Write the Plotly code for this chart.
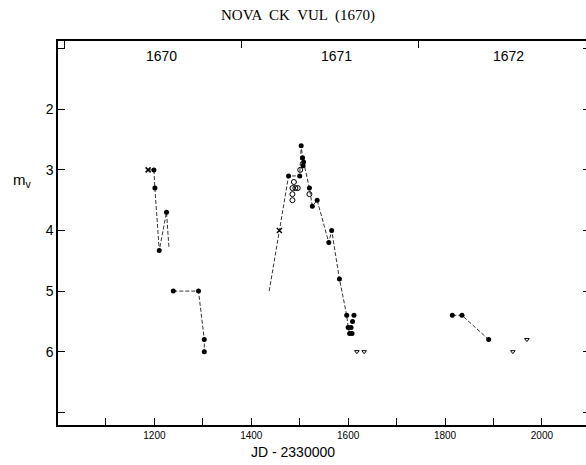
import plotly.graph_objects as go

# Light curve of Nova CK Vul (1670): JD - 2330000 vs visual magnitude
# Connecting line (None separates the observing seasons)
line_jd = [1187, 1199, 1201, 1210, 1225, 1230, None,
           1239, 1291, 1303, 1303, None,
           1437, 1458, 1477, 1500, 1503, 1506, 1520, 1526, 1536, 1560, 1566,
           1582, 1597, 1600, 1603, None,
           1815, 1835, 1890]
line_mag = [3.0, 3.0, 3.3, 4.33, 3.7, 4.28, None,
            5.0, 5.0, 5.8, 6.0, None,
            5.0, 4.0, 3.1, 3.1, 2.6, 2.8, 3.3, 3.6, 3.5, 4.2, 4.0,
            4.8, 5.4, 5.6, 5.7, None,
            5.4, 5.4, 5.8]

# Observations (filled dots)
dot_jd = [1199, 1201, 1210, 1225, 1239, 1291, 1303, 1303,
          1477, 1500, 1503, 1506, 1508, 1507, 1520, 1526, 1536, 1566, 1560,
          1582, 1597, 1612, 1609, 1600, 1606, 1603, 1608,
          1815, 1835, 1890]
dot_mag = [3.0, 3.3, 4.33, 3.7, 5.0, 5.0, 5.8, 6.0,
           3.1, 3.1, 2.6, 2.8, 2.87, 2.93, 3.3, 3.6, 3.5, 4.0, 4.2,
           4.8, 5.4, 5.4, 5.5, 5.6, 5.6, 5.7, 5.7,
           5.4, 5.4, 5.8]

# Observations (open circles)
open_jd = [1488, 1485, 1491, 1485, 1485, 1496, 1501, 1520]
open_mag = [3.2, 3.3, 3.3, 3.4, 3.5, 3.3, 3.0, 3.4]

# Crosses
cross_jd = [1187, 1458]
cross_mag = [3.0, 4.0]

# Fainter-than estimates
lim_jd = [1618, 1633, 1940, 1969]
lim_mag = [6.0, 6.0, 6.0, 5.8]

# Calendar years along the top
year_bounds = [1015, 1380, 1745]
year_labels = ["1670", "1671", "1672"]
year_label_jd = [1215, 1575, 1932]

x_ticks = [1100, 1200, 1300, 1400, 1500, 1600, 1700, 1800, 1900, 2000]
x_ticktext = ["" if v % 200 else str(v) for v in x_ticks]
y_ticks = [1, 2, 3, 4, 5, 6, 7]
y_ticktext = ["", "2", "3", "4", "5", "6", ""]

XR = [1001, 2091]
YR = [7.21, 0.873]
SANS = "Liberation Sans"

# pixel helpers for text placement (plot area: x 58..586, y 41..425)
def px(x):
    return (x - 58) / 528


def py(y):
    return 1 - (y - 41) / 384


fig = go.Figure()
fig.add_trace(go.Scatter(x=line_jd, y=line_mag, mode="lines",
                         line=dict(color="black", width=0.8, dash="4px,2px"),
                         connectgaps=False, hoverinfo="skip"))
fig.add_trace(go.Scatter(x=dot_jd, y=dot_mag, mode="markers",
                         marker=dict(symbol="circle", size=5, color="black")))
fig.add_trace(go.Scatter(x=open_jd, y=open_mag, mode="markers",
                         marker=dict(symbol="circle-open", size=5, color="black",
                                     line=dict(width=1, color="black"))))
fig.add_trace(go.Scatter(x=cross_jd, y=cross_mag, mode="markers",
                         marker=dict(symbol="x-thin", size=5,
                                     line=dict(width=1.5, color="black"))))
fig.add_trace(go.Scatter(x=lim_jd, y=lim_mag, mode="markers",
                         marker=dict(symbol="triangle-down-open", size=4, color="black",
                                     line=dict(width=1, color="black"))))
# invisible traces to activate the extra axes
fig.add_trace(go.Scatter(x=[None], y=[None], xaxis="x2", showlegend=False))
fig.add_trace(go.Scatter(x=[None], y=[None], yaxis="y2", showlegend=False))

fig.update_layout(
    width=586, height=465,
    margin=dict(l=58, r=0, t=41, b=40),
    paper_bgcolor="white", plot_bgcolor="white",
    showlegend=False,
    xaxis=dict(range=XR, tickvals=x_ticks, ticktext=x_ticktext,
               ticks="inside", ticklen=7, tickwidth=1, tickcolor="black",
               showline=True, linecolor="black", linewidth=1.5, mirror=True,
               showgrid=False, zeroline=False,
               tickfont=dict(family=SANS, size=10, color="black")),
    xaxis2=dict(range=XR, overlaying="x", side="top", tickvals=year_bounds,
                ticks="inside", ticklen=7, tickwidth=1, tickcolor="black",
                showticklabels=False, showline=False, showgrid=False, zeroline=False),
    yaxis=dict(range=YR, tickvals=y_ticks, ticktext=y_ticktext,
               ticks="inside", ticklen=7, tickwidth=1, tickcolor="black",
               showline=True, linecolor="black", linewidth=1.5,
               showgrid=False, zeroline=False,
               tickfont=dict(family=SANS, size=14, color="black")),
    yaxis2=dict(range=YR, overlaying="y", side="right", tickvals=y_ticks,
                ticks="inside", ticklen=3, tickwidth=1, tickcolor="black",
                showticklabels=False, showline=False, showgrid=False, zeroline=False),
)

annotations = [
    dict(text="NOVA  CK  VUL  (1670)", xref="paper", yref="paper",
         x=px(298), y=py(15), xanchor="center", yanchor="middle", showarrow=False,
         font=dict(family="Liberation Serif", size=15, color="black")),
    dict(text="JD - 2330000", xref="paper", yref="paper",
         x=px(293), y=py(452), xanchor="center", yanchor="middle", showarrow=False,
         font=dict(family=SANS, size=14, color="black")),
    dict(text="m<sub>v</sub>", xref="paper", yref="paper",
         x=px(22), y=py(181), xanchor="center", yanchor="middle", showarrow=False,
         font=dict(family=SANS, size=15, color="black")),
]
for lab, jd in zip(year_labels, year_label_jd):
    annotations.append(dict(text=lab, x=jd, xref="x", yref="paper",
                            y=py(56), xanchor="center", yanchor="middle",
                            showarrow=False,
                            font=dict(family=SANS, size=14, color="black")))
fig.update_layout(annotations=annotations)

fig.write_html("out.html")
